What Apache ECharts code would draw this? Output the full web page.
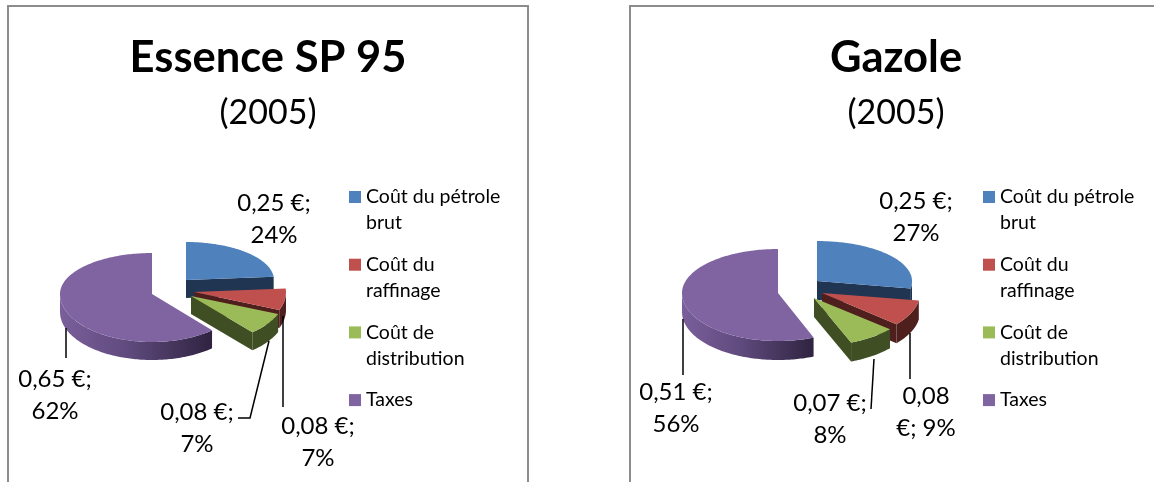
<!DOCTYPE html>
<html>
<head>
<meta charset="utf-8">
<style>html,body{margin:0;padding:0;background:#fff}#c{width:1154px;height:482px}</style>
<script src="https://cdn.jsdelivr.net/npm/echarts@6/dist/echarts.min.js"></script>
</head>
<body>
<div id="c"></div>
<script>
const categories = ['Coût du pétrole brut', 'Coût du raffinage', 'Coût de distribution', 'Taxes'];
const sp95Values = [0.25, 0.08, 0.08, 0.65];
const sp95Percents = [24, 7, 7, 62];
const gazoleValues = [0.25, 0.08, 0.07, 0.51];
const gazolePercents = [27, 9, 8, 56];
const year = '(2005)';

const legendLabels = {
  'Coût du pétrole brut': '\nCoût du pétrole\nbrut',
  'Coût du raffinage': '\nCoût du\nraffinage',
  'Coût de distribution': '\nCoût de\ndistribution',
  'Taxes': '\nTaxes\n '
};
const topColors = ['#4F81BD', '#C0504D', '#9BBB59', '#8064A2'];
const wallColors = ['#1F3552', '#4F1F1E', '#3F4F23', {
  type: 'linear', x: 0, y: 0, x2: 1, y2: 0,
  colorStops: [{offset: 0, color: '#7A5F9B'}, {offset: 0.45, color: '#5F4A7D'}, {offset: 1, color: '#2F2340'}]
}];
const FONT = 'Lato, Carlito, sans-serif';

const panels = [
  {
    values: sp95Values, percents: sp95Percents,
    rx: [88, 92, 94, 92], ryTop: [38, 40, 40, 41], ryBot: 48, depth: 18,
    apex: [[186, 280], [194, 292], [191, 296], [152, 294]],
    leaders: [null, [[283, 316], [283, 407]], [[269, 341], [250, 418], [238, 418]], [[66, 328], [66, 358]]],
    labelPos: [[274, 219], [318, 442], [197, 428], [55, 395]],
    labelBreak: [' ', ' ', ' ', ' ']
  },
  {
    values: gazoleValues, percents: gazolePercents,
    rx: [95, 98, 100, 96], ryTop: [40, 42, 42, 44], ryBot: 48, depth: 19,
    apex: [[817, 281], [822, 293], [814, 298], [778, 293]],
    leaders: [null, [[910, 333], [910, 379]], [[874, 359], [871, 409]], [[683, 319], [683, 375]]],
    labelPos: [[916, 217], [926, 412], [830, 419], [676, 408]],
    labelBreak: [' ', 'mid', ' ', ' ']
  }
];

function point(c, p, i, theta, dz) {
  const s = Math.sin(theta), k = Math.cos(theta);
  return [c[0] + p.rx[i] * s, c[1] - (k > 0 ? p.ryTop[i] : p.ryBot) * k + (dz || 0)];
}
function arc(c, p, i, a, b, dz) {
  const pts = [], n = Math.max(2, Math.ceil(Math.abs(b - a) / 0.02));
  for (let j = 0; j <= n; j++) pts.push(point(c, p, i, a + (b - a) * j / n, dz));
  return pts;
}
function labelText(value, pct, mode) {
  const v = value.toFixed(2).replace('.', ',');
  return mode === 'mid' ? v + '\n€; ' + pct + '%' : v + ' €;\n' + pct + '%';
}
function makeRender(panel, idx) {
  return function (params, api) {
    const value = api.value(0), pct = api.value(1);
    const total = panel.values.reduce((a, b) => a + b, 0);
    const before = panel.values.slice(0, idx).reduce((a, b) => a + b, 0);
    const a0 = before / total * 2 * Math.PI, a1 = (before + value) / total * 2 * Math.PI;
    const c = panel.apex[idx], d = panel.depth, children = [];
    const poly = (points, fill) => children.push({type: 'polygon', shape: {points}, style: {fill, stroke: null}});
    if (Math.sin(a0) < -1e-6) {
      const e = point(c, panel, idx, a0);
      poly([c, e, [e[0], e[1] + d], [c[0], c[1] + d]], wallColors[idx]);
    }
    if (Math.sin(a1) > 1e-6) {
      const e = point(c, panel, idx, a1);
      poly([c, e, [e[0], e[1] + d], [c[0], c[1] + d]], wallColors[idx]);
    }
    const w0 = Math.max(a0, Math.PI / 2), w1 = Math.min(a1, 3 * Math.PI / 2);
    if (w1 > w0) {
      poly(arc(c, panel, idx, w0, w1, 0).concat(arc(c, panel, idx, w1, w0, d)), wallColors[idx]);
    }
    poly([c].concat(arc(c, panel, idx, a0, a1, 0)), topColors[idx]);
    const leader = panel.leaders[idx];
    if (leader) {
      children.push({type: 'polyline', shape: {points: leader}, style: {stroke: '#000', lineWidth: 1.5, fill: null}});
    }
    const pos = panel.labelPos[idx];
    children.push({
      type: 'text', x: pos[0], y: pos[1],
      style: {
        text: labelText(value, pct, panel.labelBreak[idx]),
        font: '24px ' + FONT, fill: '#000', align: 'center', verticalAlign: 'middle', lineHeight: 32
      }
    });
    return {type: 'group', children};
  };
}

const series = [];
panels.forEach(panel => {
  categories.forEach((name, i) => {
    series.push({
      type: 'custom', name, coordinateSystem: 'none', silent: true,
      itemStyle: {color: topColors[i]},
      data: [[panel.values[i], panel.percents[i]]],
      renderItem: makeRender(panel, i)
    });
  });
});

function titleOf(text, x) {
  return {
    text, subtext: year, left: x, top: 28, textAlign: 'center', itemGap: 10,
    textStyle: {fontFamily: FONT, fontSize: 43.5, fontWeight: 'bold', color: '#000', lineHeight: 50},
    subtextStyle: {fontFamily: FONT, fontSize: 34, fontWeight: 'normal', color: '#000', lineHeight: 40}
  };
}
function legendOf(x) {
  return {
    data: categories, orient: 'vertical', left: x, top: 153, icon: 'rect', silent: true,
    selectedMode: false, itemWidth: 12, itemHeight: 12, itemGap: -10.3,
    formatter: n => legendLabels[n],
    textStyle: {fontFamily: FONT, fontSize: 19.5, color: '#000', lineHeight: 26}
  };
}
const borderLine = pts => ({type: 'polyline', shape: {points: pts}, style: {stroke: '#8C8C8C', lineWidth: 2, fill: null}, silent: true});

const chart = echarts.init(document.getElementById('c'), null, {renderer: 'canvas'});
chart.setOption({
  animation: false,
  backgroundColor: '#fff',
  title: [titleOf('Essence SP 95', 263), titleOf('Gazole', 891)],
  legend: [legendOf(344), legendOf(978)],
  graphic: [
    borderLine([[8, 482], [8, 6], [528, 6], [528, 482]]),
    borderLine([[630, 482], [630, 6], [1154, 6]])
  ],
  series
});
</script>
</body>
</html>
